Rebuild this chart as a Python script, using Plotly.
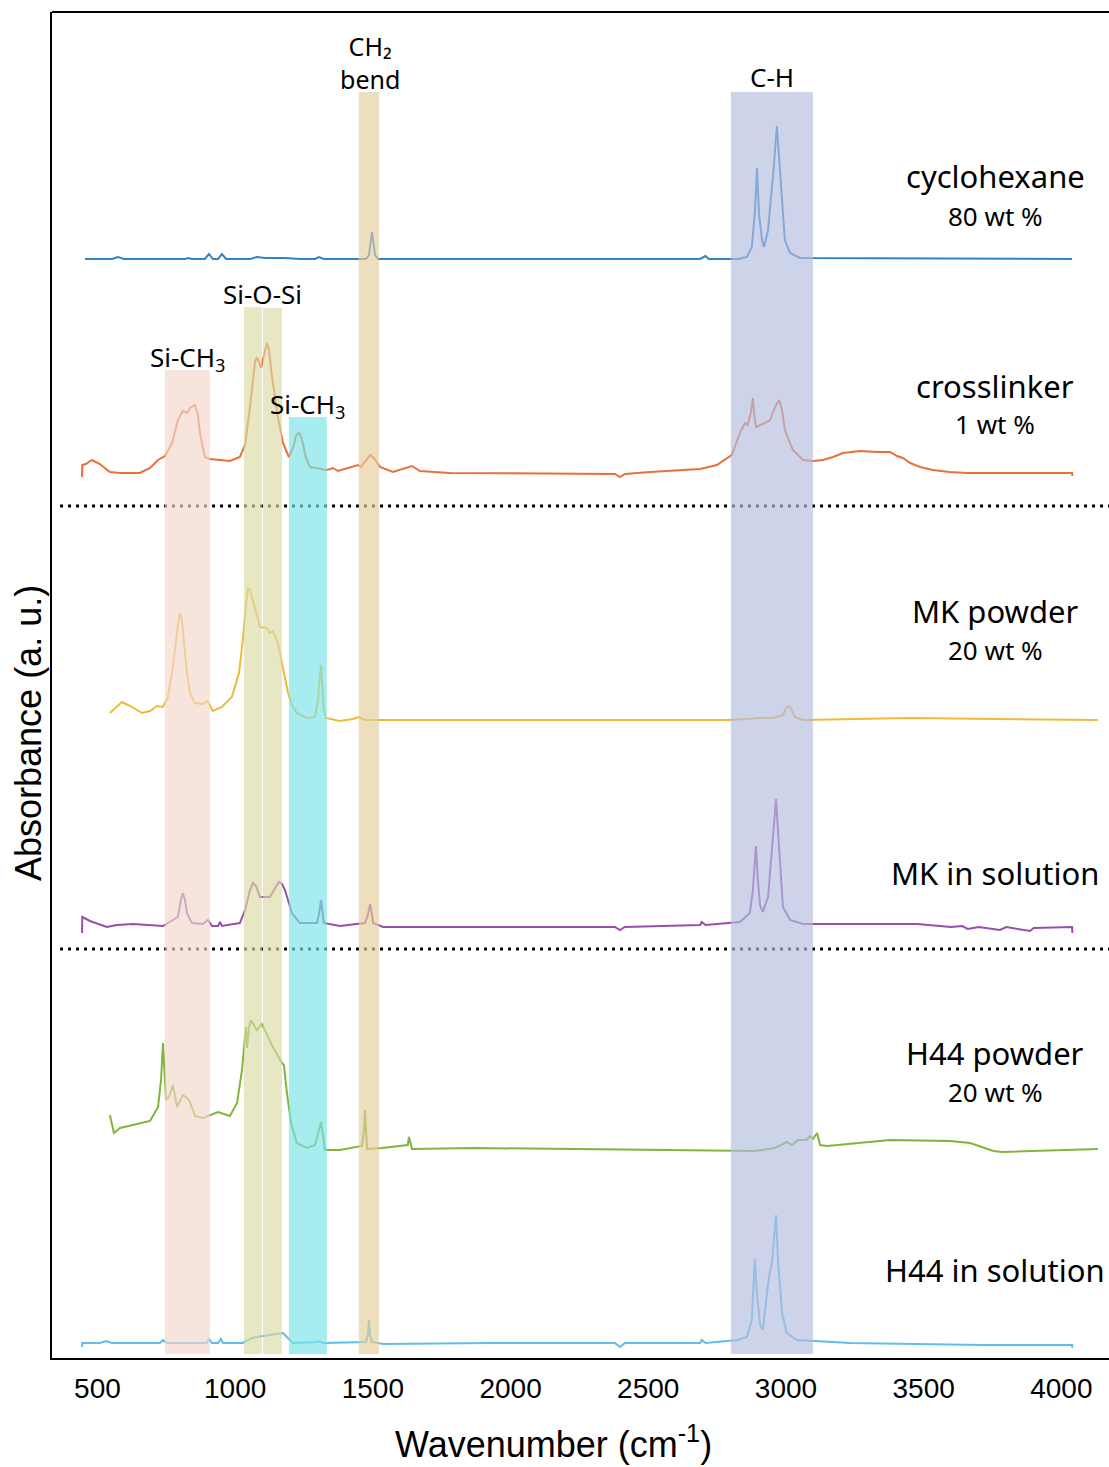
import plotly.graph_objects as go

# ---------------- data ----------------
# wavenumbers (cm-1) and absorbance (a.u., relative to each trace's baseline)
cyclo_wn = [455, 553, 574, 596, 818, 829, 843, 890, 905, 919, 938, 952, 967, 1054, 1079, 1108, 1181, 1235,
            1290, 1304, 1322, 1475, 1486, 1493, 1497, 1501, 1508, 1519, 2688, 2708, 2720, 2833, 2840, 2858,
            2876, 2887, 2895, 2902, 2913, 2920, 2935, 2949, 2953, 2967, 2975, 2986, 2996, 3015, 3051, 4039]
cyclo_abs = [0, 0, 0.02, 0, 0, 0.01, 0, 0, 0.05, 0, 0, 0.05, 0, 0, 0.02, 0.01, 0.01, 0,
             0, 0.02, 0, 0, 0.04, 0.19, 0.27, 0.19, 0.04, 0, 0, 0.03, 0, 0, 0.01, 0.02,
             0.12, 0.46, 0.91, 0.46, 0.19, 0.12, 0.29, 0.72, 0.82, 1.33, 0.99, 0.52, 0.19, 0.06, 0.01, 0]

cross_wn = [444, 445, 458, 480, 509, 545, 582, 654, 691, 720, 745, 771, 792, 810, 825, 836, 854, 865, 872,
            890, 908, 981, 1017, 1036, 1054, 1072, 1079, 1094, 1115, 1122, 1134, 1155, 1174, 1195, 1210,
            1221, 1232, 1243, 1257, 1272, 1333, 1355, 1373, 1406, 1446, 1457, 1475, 1490, 1504, 1526,
            1573, 1624, 1642, 1671, 1780, 2379, 2397, 2415, 2506, 2688, 2749, 2803, 2833, 2851, 2861, 2873,
            2880, 2887, 2891, 2924, 2942, 2964, 2975, 2986, 2996, 3025, 3062, 3098, 3134, 3171, 3207, 3269,
            3331, 3378, 3403, 3425, 3451, 3487, 3534, 3595, 3658, 4039, 4040]
cross_abs = [-0.04, 0.08, 0.09, 0.13, 0.09, 0.01, 0, 0, 0.05, 0.13, 0.17, 0.30, 0.53, 0.62, 0.60, 0.65,
             0.68, 0.58, 0.40, 0.16, 0.14, 0.12, 0.16, 0.28, 0.66, 1.11, 1.16, 1.05, 1.30, 1.25, 0.96,
             0.56, 0.30, 0.16, 0.25, 0.37, 0.41, 0.33, 0.15, 0.06, 0.03, 0.05, 0.02, 0.05, 0.08, 0.06,
             0.13, 0.18, 0.15, 0.06, 0.01, 0.06, 0.07, 0.02, 0, -0.01, -0.04, -0.01, 0.01, 0.04, 0.08, 0.18,
             0.40, 0.50, 0.48, 0.61, 0.75, 0.53, 0.46, 0.50, 0.53, 0.68, 0.73, 0.63, 0.43, 0.23, 0.13,
             0.12, 0.13, 0.16, 0.20, 0.22, 0.21, 0.21, 0.17, 0.15, 0.10, 0.06, 0.03, 0.01, 0, 0, -0.03]

mkp_wn = [545, 589, 618, 662, 691, 716, 738, 756, 774, 785, 792, 800, 807, 810, 818, 825, 836, 854, 883,
          898, 908, 919, 952, 988, 1014, 1028, 1039, 1046, 1054, 1065, 1079, 1090, 1115, 1126, 1137, 1155,
          1174, 1192, 1206, 1224, 1261, 1290, 1301, 1304, 1312, 1319, 1322, 1330, 1380, 1428, 1449, 1471,
          1925, 2796, 2906, 2953, 2989, 3000, 3011, 3022, 3033, 3062, 3451, 3716, 4133]
mkp_abs = [0.07, 0.18, 0.14, 0.07, 0.09, 0.14, 0.13, 0.23, 0.53, 0.80, 0.95, 1.07, 1.00, 0.90, 0.65, 0.47,
           0.27, 0.17, 0.16, 0.19, 0.15, 0.09, 0.13, 0.23, 0.47, 0.80, 1.15, 1.31, 1.30, 1.20, 1.05, 0.93,
           0.92, 0.87, 0.89, 0.77, 0.53, 0.27, 0.15, 0.07, 0.02, 0.03, 0.20, 0.33, 0.55, 0.30, 0.10, 0.02,
           -0.01, 0.01, 0.03, 0, 0, 0, 0.02, 0.02, 0.05, 0.12, 0.14, 0.10, 0.03, 0, 0.02, 0.01, 0]

mks_wn = [444, 445, 473, 534, 571, 629, 738, 792, 803, 810, 818, 825, 843, 883, 901, 916, 938, 945, 952,
          1017, 1036, 1054, 1065, 1076, 1090, 1126, 1145, 1159, 1170, 1181, 1206, 1235, 1297, 1304, 1312,
          1319, 1322, 1380, 1471, 1482, 1490, 1497, 1501, 1537, 1925, 2379, 2397, 2415, 2688, 2694, 2708,
          2833, 2869, 2880, 2891, 2898, 2906, 2916, 2935, 2949, 2964, 2971, 2978, 2989, 3015, 3062, 3476,
          3600, 3640, 3660, 3700, 3777, 3800, 3886, 3900, 4039, 4040]
mks_abs = [-0.08, 0.08, 0.04, -0.02, 0, 0.01, -0.01, 0.08, 0.25, 0.32, 0.25, 0.12, 0.02, 0.01, 0.05, -0.01,
           -0.01, 0.03, -0.01, 0.02, 0.15, 0.35, 0.42, 0.39, 0.28, 0.28, 0.37, 0.43, 0.41, 0.35, 0.12, 0.02,
           0.02, 0.10, 0.25, 0.10, 0.02, -0.01, 0.02, 0.10, 0.21, 0.10, 0.02, -0.02, -0.02, -0.02, -0.05,
           -0.02, 0, 0.03, 0, 0.03, 0.12, 0.35, 0.79, 0.45, 0.20, 0.13, 0.28, 0.72, 1.26, 0.95, 0.62, 0.18,
           0.05, 0.01, 0.01, -0.02, -0.01, -0.04, -0.02, -0.05, -0.02, -0.06, -0.03, -0.02, -0.08]

h44p_wn = [545, 560, 582, 629, 691, 720, 731, 738, 745, 749, 760, 767, 774, 781, 789, 810, 825, 836, 854,
           883, 938, 981, 1007, 1025, 1039, 1043, 1050, 1057, 1079, 1097, 1137, 1170, 1177, 1188, 1203,
           1224, 1261, 1290, 1304, 1312, 1319, 1326, 1380, 1460, 1468, 1471, 1475, 1479, 1533, 1627, 1631,
           1638, 1642, 1863, 2506, 2887, 2960, 3003, 3022, 3044, 3076, 3087, 3098, 3113, 3124, 3149, 3378,
           3595, 3669, 3753, 3784, 4133]
h44p_abs = [0.34, 0.16, 0.21, 0.24, 0.28, 0.42, 0.69, 1.06, 0.69, 0.49, 0.52, 0.59, 0.64, 0.54, 0.42, 0.54,
            0.51, 0.47, 0.33, 0.31, 0.37, 0.33, 0.46, 0.79, 1.22, 1.01, 1.21, 1.29, 1.19, 1.25, 1.02, 0.86,
            0.84, 0.56, 0.26, 0.06, 0.01, 0.04, 0.19, 0.27, 0.14, -0.01, -0.01, 0.03, 0.19, 0.39, 0.19, 0,
            0.01, 0.04, 0.12, 0.04, 0, 0.01, -0.01, -0.02, 0.01, 0.07, 0.04, 0.09, 0.09, 0.13, 0.10, 0.16,
            0.04, 0.03, 0.09, 0.08, 0.06, -0.02, -0.03, 0]

h44s_wn = [444, 445, 509, 531, 553, 727, 738, 752, 898, 905, 916, 938, 948, 956, 1028, 1061, 1101, 1174,
           1188, 1210, 1297, 1304, 1319, 1475, 1482, 1486, 1490, 1497, 1537, 1925, 2379, 2397, 2415, 2688,
           2694, 2708, 2825, 2858, 2876, 2887, 2895, 2906, 2916, 2938, 2949, 2964, 2971, 2986, 3003, 3040,
           3233, 3716, 4039, 4040]
h44s_abs = [-0.04, 0, 0, 0.02, 0, 0, 0.03, 0, 0, 0.04, 0, 0, 0.04, 0, 0, 0.05, 0.07, 0.10,
            0.06, 0, 0.01, 0.02, 0, 0.01, 0.08, 0.23, 0.08, 0.01, -0.01, 0, 0, -0.04, 0, 0,
            0.03, 0, 0.03, 0.06, 0.23, 0.84, 0.48, 0.18, 0.13, 0.66, 0.80, 1.28, 0.83, 0.30, 0.10, 0.03,
            0, -0.02, -0.02, -0.05]

series_names = ["cyclohexane", "crosslinker", "MK powder", "MK in solution", "H44 powder", "H44 in solution"]
series_sub = ["80 wt %", "1 wt %", "20 wt %", "", "20 wt %", ""]
series_offsets = [10.99, 8.85, 6.38, 4.33, 2.09, 0.15]
series_colors = ["#3382C8", "#E8703C", "#F0B93C", "#9650AA", "#82B43C", "#62BDE8"]
series_wn = [cyclo_wn, cross_wn, mkp_wn, mks_wn, h44p_wn, h44s_wn]
series_abs = [cyclo_abs, cross_abs, mkp_abs, mks_abs, h44p_abs, h44s_abs]

# highlighted bands: start, end (cm-1), top (a.u.), colour
band_start = [745, 1032, 1101, 1195, 1449, 2800]
band_end = [908, 1097, 1170, 1333, 1522, 3098]
band_top = [9.88, 10.51, 10.50, 9.41, 12.66, 12.66]
band_colors = ["#F3D7CB", "#DADAA4", "#DADAA4", "#78E3E8", "#E3CC9B", "#B2BDDF"]

# band labels: text, centre wavenumber, centre height (a.u.), font size
band_label_text = ["Si-CH<sub>3</sub>", "Si-O-Si", "Si-CH<sub>3</sub>", "CH\u2082<br>bend", "C-H"]
band_label_wn = [826, 1101, 1264, 1488, 2949]
band_label_y = [10.00, 10.64, 9.53, 12.96, 12.81]
band_label_size = [26, 26, 26, 25, 26]

separator_levels = [8.52, 4.09]
x_ticks = [500, 1000, 1500, 2000, 2500, 3000, 3500, 4000]

# ---------------- figure ----------------
W, H = 1109, 1467
L, R, T, B = 52, 0, 12, 109
XR = [335, 4173]
YR = [0, 13.46]

fig = go.Figure()
for name, off, col, wn, ab in zip(series_names, series_offsets, series_colors, series_wn, series_abs):
    fig.add_trace(go.Scatter(x=wn, y=[off + a for a in ab], mode="lines", name=name,
                             line=dict(color=col, width=2), hoverinfo="skip", showlegend=False))

shapes = []
for lvl in separator_levels:
    shapes.append(dict(type="line", xref="paper", yref="y", x0=0.0076, x1=1, y0=lvl, y1=lvl,
                       line=dict(color="black", width=3, dash="3px,5px"), layer="above"))
for s, e, top, c in zip(band_start, band_end, band_top, band_colors):
    shapes.append(dict(type="rect", xref="x", yref="y", x0=s, x1=e, y0=0.04, y1=top,
                       fillcolor=c, opacity=0.65, line=dict(width=0), layer="above"))
shapes.append(dict(type="line", xref="paper", yref="paper", x0=0, x1=1, y0=1, y1=1,
                   line=dict(color="black", width=2), layer="above"))

label_font = "Noto Sans, Open Sans, sans-serif"
annotations = []
for lab, lx, ly, fs in zip(band_label_text, band_label_wn, band_label_y, band_label_size):
    annotations.append(dict(x=lx, y=ly, xref="x", yref="y", text=lab, showarrow=False,
                            xanchor="center", yanchor="middle",
                            font=dict(family=label_font, size=fs, color="black")))

def px_x(px):
    return (px - L) / (W - L - R)

def px_y(py):
    return (H - B - py) / (H - T - B)

name_y = [176, 386, 611, 873, 1053, 1270]
sub_y = [216, 424, 650, None, 1092, None]
for nm, sb, ny, sy in zip(series_names, series_sub, name_y, sub_y):
    annotations.append(dict(x=px_x(995), y=px_y(ny), xref="paper", yref="paper",
                            text=nm, showarrow=False, xanchor="center", yanchor="middle",
                            font=dict(family=label_font, size=31, color="black")))
    if sb:
        annotations.append(dict(x=px_x(995), y=px_y(sy), xref="paper",
                                yref="paper", text=sb, showarrow=False, xanchor="center", yanchor="middle",
                                font=dict(family=label_font, size=26, color="black")))

title_font = "Liberation Sans, Arial, sans-serif"
annotations.append(dict(x=px_x(553), y=px_y(1442), xref="paper", yref="paper",
                        text="Wavenumber (cm<sup>-1</sup>)", showarrow=False, xanchor="center", yanchor="middle",
                        font=dict(family=title_font, size=36, color="black")))
annotations.append(dict(x=px_x(28), y=px_y(733), xref="paper", yref="paper",
                        text="Absorbance (a. u.)", showarrow=False, xanchor="center", yanchor="middle",
                        textangle=-90, font=dict(family=title_font, size=36, color="black")))

fig.update_layout(
    width=W, height=H, margin=dict(l=L, r=R, t=T, b=B),
    paper_bgcolor="white", plot_bgcolor="white",
    shapes=shapes, annotations=annotations,
    xaxis=dict(range=XR, showgrid=False, zeroline=False, showline=True, linecolor="black", linewidth=2,
               tickvals=x_ticks, ticks="", ticklabelstandoff=4,
               tickfont=dict(family=title_font, size=28, color="black")),
    yaxis=dict(range=YR, showgrid=False, zeroline=False, showline=True, linecolor="black", linewidth=2,
               showticklabels=False, ticks=""),
)

fig.write_html("out.html")
